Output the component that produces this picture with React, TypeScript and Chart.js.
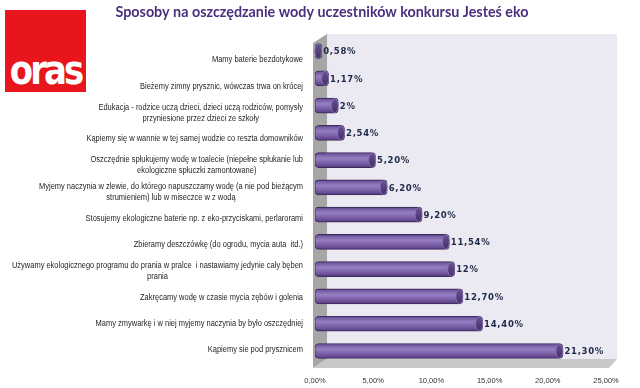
import React, { useEffect, useRef } from "react";
import { Chart, registerables } from "chart.js";
Chart.register(...registerables);

const title = "Sposoby na oszczędzanie wody uczestników konkursu Jesteś eko";

const categories: string[][] = [
  ["Mamy baterie bezdotykowe"],
  ["Bieżemy zimny prysznic, wówczas trwa on krócej"],
  ["Edukacja - rodzice uczą dzieci, dzieci uczą rodziców, pomysły", "przyniesione przez dzieci ze szkoły"],
  ["Kąpiemy się w wannie w tej samej wodzie co reszta domowników"],
  ["Oszczędnie spłukujemy wodę w toalecie (niepełne spłukanie lub", "ekologiczne spłuczki zamontowane)"],
  ["Myjemy naczynia w zlewie, do którego napuszczamy wodę (a nie pod bieżącym", "strumieniem) lub w miseczce w z wodą"],
  ["Stosujemy ekologiczne baterie np. z eko-przyciskami, perlarorami"],
  ["Zbieramy deszczówkę (do ogrodu, mycia auta  itd.)"],
  ["Używamy ekologicznego programu do prania w pralce  i nastawiamy jedynie cały bęben", "prania"],
  ["Zakręcamy wodę w czasie mycia zębów i golenia"],
  ["Mamy zmywarkę i w niej myjemy naczynia by było oszczędniej"],
  ["Kąpiemy sie pod prysznicem"],
];

const values: number[] = [0.58, 1.17, 2, 2.54, 5.2, 6.2, 9.2, 11.54, 12, 12.7, 14.4, 21.3];

const xMin = 0;
const xMax = 25;
const xStep = 5;

const fmtTick = (v: number) => v.toFixed(2).replace(".", ",") + "%";
const fmtValue = (v: number) =>
  Number.isInteger(v) ? v + "%" : v.toFixed(2).replace(".", ",") + "%";

const decorPlugin = {
  id: "decor",
  beforeDatasetsDraw(chart: any) {
    const { ctx, chartArea: a } = chart;
    const fl = a.left - 2;
    const bl = a.left + 12;
    const fr = a.right + 3;
    const br = a.right + 11;
    const ft = a.top + 5.5;
    const bt = a.top - 3.5;
    const fb = a.bottom + 3.5;
    const bb = a.bottom - 5.5;
    ctx.save();
    ctx.fillStyle = "#ebe9f2";
    ctx.fillRect(bl, bt, br - bl, bb - bt);
    ctx.beginPath();
    ctx.moveTo(fl, ft);
    ctx.lineTo(bl, bt);
    ctx.lineTo(bl, bb);
    ctx.lineTo(fl, fb);
    ctx.closePath();
    ctx.fillStyle = "#a6a6a6";
    ctx.fill();
    ctx.beginPath();
    ctx.moveTo(fl, fb);
    ctx.lineTo(bl, bb);
    ctx.lineTo(br, bb);
    ctx.lineTo(fr, fb);
    ctx.closePath();
    ctx.fillStyle = "#c8c8c8";
    ctx.fill();
    ctx.restore();
  },
  afterDatasetsDraw(chart: any) {
    const { ctx, chartArea: a } = chart;
    const meta = chart.getDatasetMeta(0);
    ctx.save();
    meta.data.forEach((el: any, i: number) => {
      const { x, y, height } = el.getProps(["x", "y", "height"], true);
      const h = height;
      const rx = 3.5;
      if (![x, y, h].every(Number.isFinite)) return;
      ctx.beginPath();
      ctx.ellipse(x - rx, y, rx, h / 2 - 0.4, 0, 0, Math.PI * 2);
      const g = ctx.createLinearGradient(0, y - h / 2, 0, y + h / 2);
      g.addColorStop(0, "#6a5294");
      g.addColorStop(1, "#432e66");
      ctx.fillStyle = g;
      ctx.fill();
      ctx.lineWidth = 0.8;
      ctx.strokeStyle = "#8c77b3";
      ctx.stroke();
      ctx.font = "bold 8.5px 'DejaVu Sans'";
      (ctx as any).letterSpacing = "0.7px";
      ctx.fillStyle = "#1d2a47";
      ctx.textAlign = "left";
      ctx.textBaseline = "middle";
      ctx.fillText(fmtValue(values[i]), x + 1.5, y + 1);
    });
    ctx.restore();

    const yScale = chart.scales.y;
    const mid = (a.top + a.bottom) / 2;
    const k = 0.967;
    const shift = 4;
    const rightEdge = 303;
    const lineH = 11;
    const condense = 0.88;
    ctx.save();
    ctx.font = "8.5px 'Liberation Sans'";
    ctx.fillStyle = "#1f1f1f";
    ctx.textBaseline = "middle";
    categories.forEach((lines, i) => {
      const py = yScale.getPixelForValue(i);
      const cy = mid + (py - mid) * k + shift;
      const widths = lines.map((l) => ctx.measureText(l).width * condense);
      const maxW = Math.max(...widths);
      const cx = rightEdge - maxW / 2;
      const y0 = cy - ((lines.length - 1) * lineH) / 2;
      ctx.textAlign = "center";
      lines.forEach((l, j) => {
        ctx.fillText(l, cx, y0 + j * lineH, widths[j]);
      });
    });
    ctx.restore();

    ctx.save();
    ctx.font = "bold 14.5px Lato";
    ctx.fillStyle = "#4b2e7e";
    ctx.textAlign = "center";
    ctx.textBaseline = "middle";
    const targetW = 413;
    const tw = ctx.measureText(title).width;
    if (tw < targetW) {
      (ctx as any).letterSpacing = ((targetW - tw) / (title.length - 1)).toFixed(2) + "px";
      ctx.fillText(title, 322, 12.5);
    } else {
      ctx.fillText(title, 322, 12.5, targetW);
    }
    ctx.restore();
  },
};

export default function App() {
  const ref = useRef<HTMLCanvasElement | null>(null);

  useEffect(() => {
    document.body.style.margin = "0";
    const canvas = ref.current;
    if (!canvas) return;
    const chart = new Chart(canvas, {
      type: "bar",
      data: {
        labels: categories.map((c) => c.join(" ")),
        datasets: [
          {
            data: values,
            barThickness: 15,
            borderRadius: 4,
            borderSkipped: false,
            borderWidth: 0.8,
            borderColor: "#3c2a5a",
            backgroundColor: (c: any) => {
              const chartRef = c.chart;
              const ys = chartRef.scales && chartRef.scales.y;
              if (!ys || c.dataIndex === undefined) return "#7e62a6";
              const py = ys.getPixelForValue(c.dataIndex);
              if (!Number.isFinite(py)) return "#7e62a6";
              const g = chartRef.ctx.createLinearGradient(0, py - 7.5, 0, py + 7.5);
              g.addColorStop(0, "#46316b");
              g.addColorStop(0.1, "#7259a2");
              g.addColorStop(0.38, "#9680c0");
              g.addColorStop(0.6, "#8468b0");
              g.addColorStop(0.88, "#654a92");
              g.addColorStop(1, "#412c63");
              return g;
            },
          },
        ],
      },
      options: {
        indexAxis: "y",
        responsive: false,
        animation: false,
        events: [],
        layout: { padding: { left: 315, right: 34, top: 37.5, bottom: -8.6 } },
        plugins: {
          legend: { display: false },
          tooltip: { enabled: false },
          title: { display: false },
        },
        scales: {
          x: {
            min: xMin,
            max: xMax,
            grid: { display: false, drawTicks: false },
            border: { display: false },
            ticks: {
              stepSize: xStep,
              padding: 11.5,
              color: "#333333",
              font: { family: "'Liberation Sans'", size: 7.5 },
              callback: (v: any) => fmtTick(Number(v)),
              maxRotation: 0,
            },
          },
          y: {
            display: false,
          },
        },
      },
      plugins: [decorPlugin],
    });
    return () => chart.destroy();
  }, []);

  return (
    <div style={{ position: "relative", width: 640, height: 388, background: "#ffffff", overflow: "hidden" }}>
      <canvas ref={ref} width={640} height={388} style={{ position: "absolute", left: 0, top: 0 }} />
      <div
        style={{
          position: "absolute",
          left: 5,
          top: 10,
          width: 81,
          height: 82,
          background: "#e8161c",
          overflow: "hidden",
        }}
      >
        <div
          style={{
            position: "absolute",
            left: 0,
            right: 0,
            bottom: 2,
            textAlign: "center",
            color: "#ffffff",
            fontFamily: "'DejaVu Sans', sans-serif",
            fontWeight: "bold",
            fontSize: 34,
            letterSpacing: -3,
            lineHeight: "34px",
            transform: "scaleY(1.2)",
            transformOrigin: "bottom",
          }}
        >
          oras
        </div>
      </div>
    </div>
  );
}
